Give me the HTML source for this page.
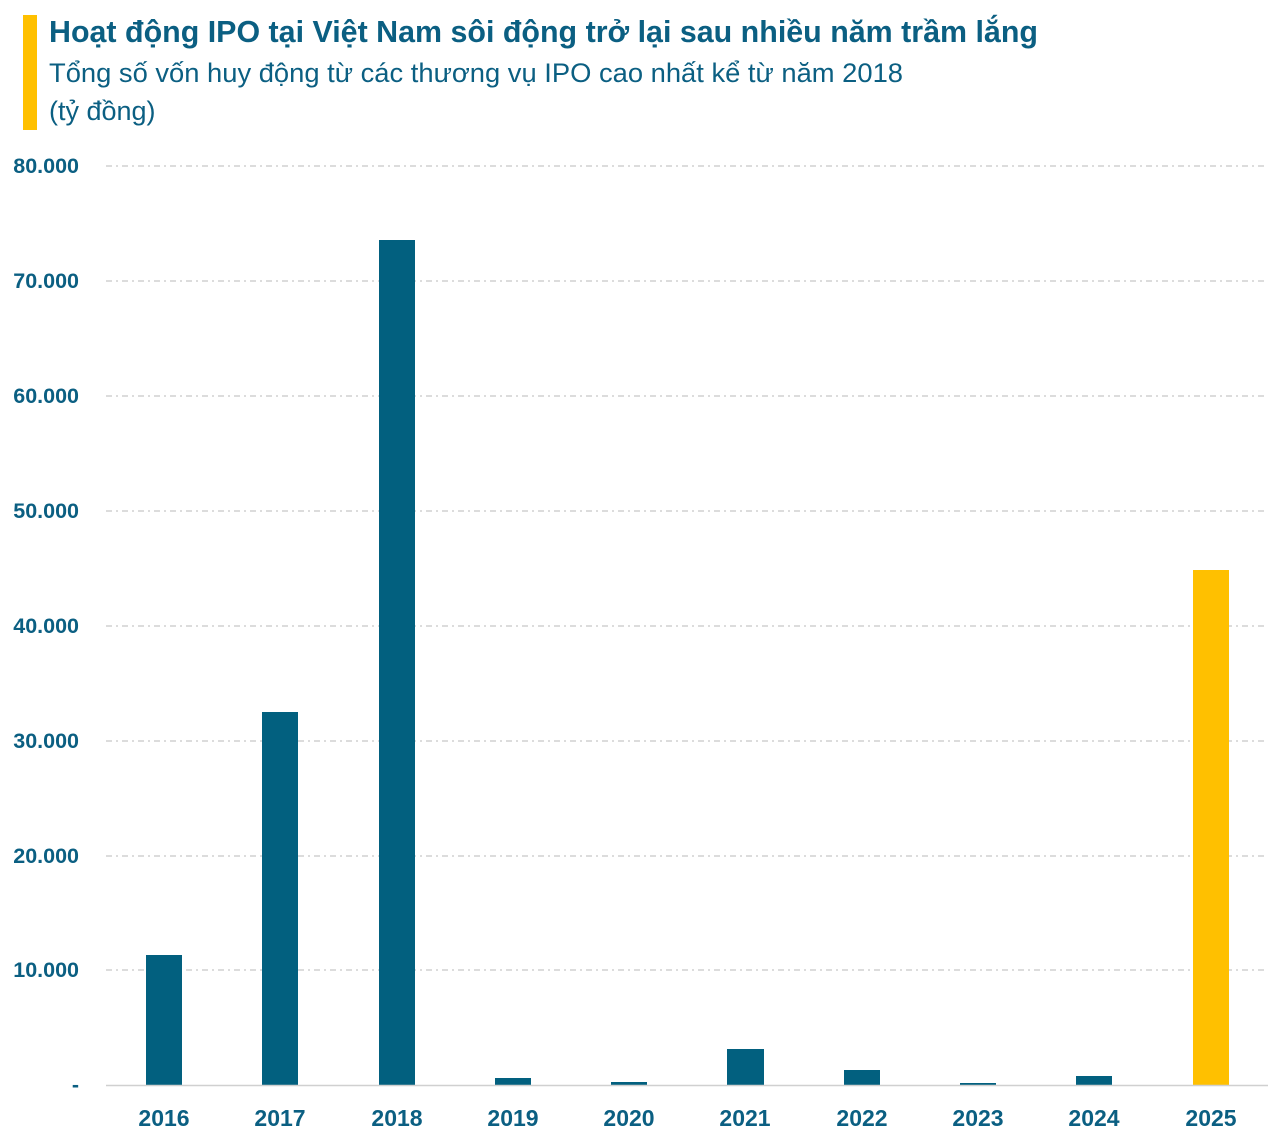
<!DOCTYPE html>
<html><head><meta charset="utf-8"><style>
body{margin:0;background:#fff;}
svg{display:block;font-family:"Liberation Sans","DejaVu Sans",sans-serif;}
</style></head><body>
<svg width="1286" height="1142" viewBox="0 0 1286 1142" xmlns="http://www.w3.org/2000/svg">
<rect x="0" y="0" width="1286" height="1142" fill="#fff"/>
<rect x="23" y="15" width="14" height="115" fill="#FFC000"/>
<text x="49" y="42" font-size="31" font-weight="bold" fill="#0B5F82" textLength="989" lengthAdjust="spacingAndGlyphs">Hoạt động IPO tại Việt Nam sôi động trở lại sau nhiều năm trầm lắng</text>
<text x="49" y="82" font-size="27" fill="#0B5F82" textLength="854" lengthAdjust="spacingAndGlyphs">Tổng số vốn huy động từ các thương vụ IPO cao nhất kể từ năm 2018</text>
<text x="49" y="120" font-size="27" fill="#0B5F82">(tỷ đồng)</text>
<g stroke="#c8c8c8" stroke-width="1.3" stroke-dasharray="6,4,2,4">
<line x1="106" x2="1268" y1="166" y2="166"/>
<line x1="106" x2="1268" y1="281" y2="281"/>
<line x1="106" x2="1268" y1="396" y2="396"/>
<line x1="106" x2="1268" y1="511" y2="511"/>
<line x1="106" x2="1268" y1="626" y2="626"/>
<line x1="106" x2="1268" y1="741" y2="741"/>
<line x1="106" x2="1268" y1="856" y2="856"/>
<line x1="106" x2="1268" y1="970" y2="970"/>
</g>
<g font-size="21.5" font-weight="bold" fill="#0B5F82" text-anchor="end">
<text x="79" y="173">80.000</text>
<text x="79" y="288">70.000</text>
<text x="79" y="403">60.000</text>
<text x="79" y="518">50.000</text>
<text x="79" y="633">40.000</text>
<text x="79" y="748">30.000</text>
<text x="79" y="863">20.000</text>
<text x="79" y="977">10.000</text>
<text x="79" y="1092">-</text>
</g>
<g fill="#02607F">
<rect x="146" y="955" width="36" height="130"/>
<rect x="262" y="712" width="36" height="373"/>
<rect x="379" y="240" width="36" height="845"/>
<rect x="495" y="1078" width="36" height="7"/>
<rect x="611" y="1082" width="36" height="3"/>
<rect x="727" y="1049" width="37" height="36"/>
<rect x="844" y="1070" width="36" height="15"/>
<rect x="960" y="1083" width="36" height="2"/>
<rect x="1076" y="1076" width="36" height="9"/>
</g>
<rect x="1193" y="570" width="36" height="515" fill="#FFC000"/>
<line x1="106" x2="1268" y1="1085.5" y2="1085.5" stroke="#d0d0d0" stroke-width="1.5"/>
<g font-size="23" font-weight="bold" fill="#0B5F82" text-anchor="middle">
<text x="164" y="1126">2016</text>
<text x="280" y="1126">2017</text>
<text x="397" y="1126">2018</text>
<text x="513" y="1126">2019</text>
<text x="629" y="1126">2020</text>
<text x="745" y="1126">2021</text>
<text x="862" y="1126">2022</text>
<text x="978" y="1126">2023</text>
<text x="1094" y="1126">2024</text>
<text x="1211" y="1126">2025</text>
</g>
</svg>
</body></html>
